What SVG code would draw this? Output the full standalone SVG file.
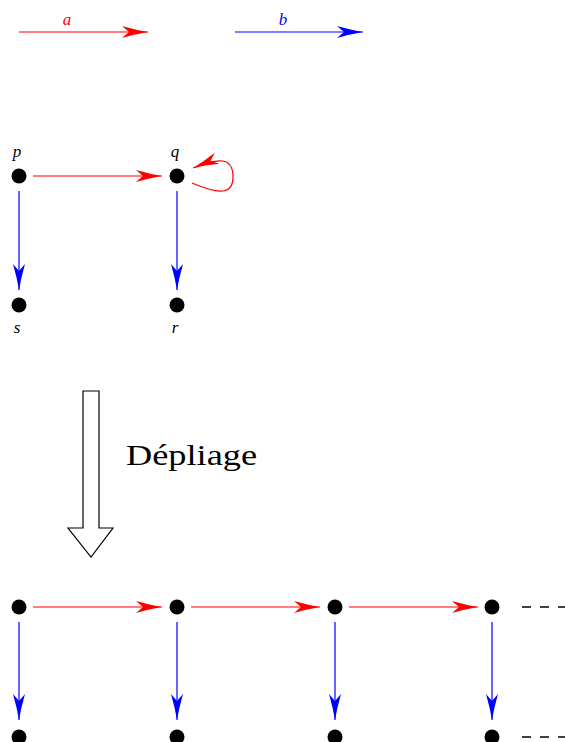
<svg xmlns="http://www.w3.org/2000/svg" width="565" height="742" viewBox="0 0 565 742">
<style>
.dot{fill:#000}
.red{stroke:#f00;stroke-width:1.2;fill:none}
.blue{stroke:#00f;stroke-width:1.2;fill:none}
.lbl{font-family:"Liberation Serif",serif;font-style:italic;font-size:17px;text-anchor:middle}
.dash{stroke:#000;stroke-width:1.3;stroke-dasharray:9 9;fill:none}
</style>
<defs>
<marker id="ar" markerUnits="userSpaceOnUse" markerWidth="30" markerHeight="14" viewBox="-28 -7 30 14" refX="0" refY="0" orient="auto">
<path d="M0 0 Q-12 -2 -26 -6 L-19 0 L-26 6 Q-12 2 0 0Z" fill="#f00"/>
</marker>
<marker id="ab" markerUnits="userSpaceOnUse" markerWidth="30" markerHeight="14" viewBox="-28 -7 30 14" refX="0" refY="0" orient="auto">
<path d="M0 0 Q-12 -2 -26 -6 L-19 0 L-26 6 Q-12 2 0 0Z" fill="#00f"/>
</marker>
</defs>

<g id="legend">
<line class="red" x1="19" y1="32" x2="148" y2="32" marker-end="url(#ar)"/>
<text class="lbl" x="67" y="25" fill="#f00">a</text>
<line class="blue" x1="235" y1="32" x2="363" y2="32" marker-end="url(#ab)"/>
<text class="lbl" x="283" y="25" fill="#00f">b</text>
</g>

<g id="connectors">
<line class="red" x1="33" y1="176" x2="162" y2="176" marker-end="url(#ar)"/>
<path class="red" d="M192 183 C218 194 234 196 233 175 C232 158 220 157 193 168" marker-end="url(#ar)"/>
<line class="blue" x1="19" y1="191" x2="19" y2="290" marker-end="url(#ab)"/>
<line class="blue" x1="177" y1="191" x2="177" y2="290" marker-end="url(#ab)"/>

<line class="red" x1="33" y1="607" x2="162" y2="607" marker-end="url(#ar)"/>
<line class="red" x1="191" y1="607" x2="320" y2="607" marker-end="url(#ar)"/>
<line class="red" x1="349" y1="607" x2="478" y2="607" marker-end="url(#ar)"/>
<line class="blue" x1="19" y1="622" x2="19" y2="720" marker-end="url(#ab)"/>
<line class="blue" x1="177" y1="622" x2="177" y2="720" marker-end="url(#ab)"/>
<line class="blue" x1="335" y1="622" x2="335" y2="720" marker-end="url(#ab)"/>
<line class="blue" x1="492" y1="622" x2="492" y2="720" marker-end="url(#ab)"/>
<line class="dash" x1="522" y1="607" x2="570" y2="607"/>
<line class="dash" x1="522" y1="737" x2="570" y2="737"/>
</g>

<g id="p"><circle class="dot" cx="19" cy="176" r="7.5"/><text class="lbl" x="17" y="157">p</text></g>
<g id="q"><circle class="dot" cx="177" cy="176" r="7.5"/><text class="lbl" x="175" y="157">q</text></g>
<g id="s"><circle class="dot" cx="19" cy="305" r="7.5"/><text class="lbl" x="17" y="333">s</text></g>
<g id="r"><circle class="dot" cx="177" cy="305" r="7.5"/><text class="lbl" x="175" y="333">r</text></g>

<g id="depliage">
<path d="M83 391 H99 V528 H113 L91 557 L68 528 H83 Z" fill="#fff" stroke="#000" stroke-width="1.2"/>
<text x="126" y="465" font-family="Liberation Serif,serif" font-size="30" textLength="131" lengthAdjust="spacingAndGlyphs">Dépliage</text>
</g>

<g id="n1"><circle class="dot" cx="19" cy="607" r="7.5"/></g>
<g id="n2"><circle class="dot" cx="177" cy="607" r="7.5"/></g>
<g id="n3"><circle class="dot" cx="335" cy="607" r="7.5"/></g>
<g id="n4"><circle class="dot" cx="492" cy="607" r="7.5"/></g>
<g id="m1"><circle class="dot" cx="19" cy="737" r="7.5"/></g>
<g id="m2"><circle class="dot" cx="177" cy="737" r="7.5"/></g>
<g id="m3"><circle class="dot" cx="335" cy="737" r="7.5"/></g>
<g id="m4"><circle class="dot" cx="492" cy="737" r="7.5"/></g>
</svg>
